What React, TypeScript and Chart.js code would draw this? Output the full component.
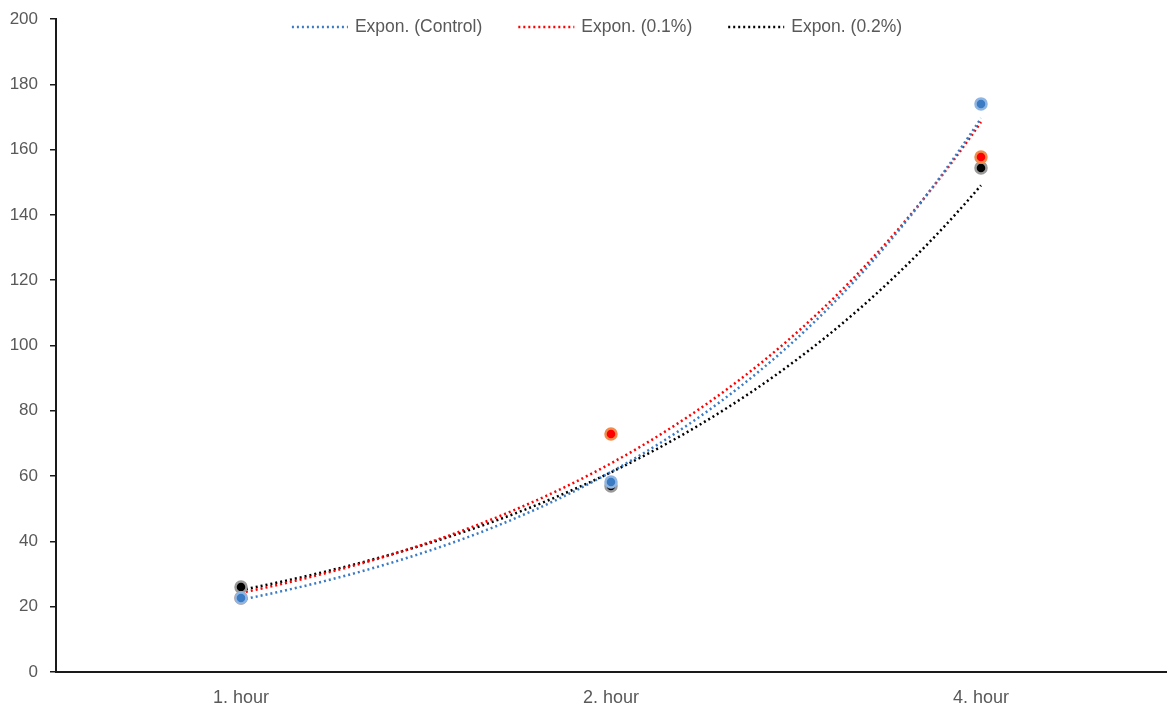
import React, { useEffect, useRef } from 'react';
import { Chart, registerables } from 'chart.js';

Chart.register(...registerables);

// ---- data ----
const categories = ['1. hour', '2. hour', '4. hour'];
const categoryPositions = [1, 2, 3];
const controlValues = [22.7, 58.2, 174.0];
const pct01Values = [22.7, 72.9, 157.7];
const pct02Values = [26.0, 57.0, 154.4];
const legendLabels = ['Expon. (Control)', 'Expon. (0.1%)', 'Expon. (0.2%)'];
const yMin = 0;
const yMax = 200;
const yStep = 20;

// ---- styles ----
const BLUE = '#3a7bc4';
const RED = '#ff0000';
const BLACK = '#000000';
const TEXT = '#595959';
const FONT = '"Liberation Sans", Arial, sans-serif';

// Excel-style exponential trendline (least squares on ln y)
function expFit(xs: number[], ys: number[]) {
  const n = xs.length;
  const ly = ys.map((v) => Math.log(v));
  const mx = xs.reduce((s, v) => s + v, 0) / n;
  const my = ly.reduce((s, v) => s + v, 0) / n;
  let sxy = 0;
  let sxx = 0;
  for (let i = 0; i < n; i++) {
    sxy += (xs[i] - mx) * (ly[i] - my);
    sxx += (xs[i] - mx) * (xs[i] - mx);
  }
  const b = sxy / sxx;
  const a = Math.exp(my - b * mx);
  return { a, b };
}

function trendPoints(xs: number[], ys: number[]) {
  const { a, b } = expFit(xs, ys);
  const pts: { x: number; y: number }[] = [];
  const x0 = xs[0];
  const x1 = xs[xs.length - 1];
  const steps = 80;
  for (let i = 0; i <= steps; i++) {
    const x = x0 + ((x1 - x0) * i) / steps;
    pts.push({ x, y: a * Math.exp(b * x) });
  }
  return pts;
}

function toPoints(ys: number[]) {
  return ys.map((y, i) => ({ x: categoryPositions[i], y }));
}

const legendPlugin = {
  id: 'excelLegend',
  afterDraw(chart: any) {
    const ctx = chart.ctx;
    const items = [
      { label: legendLabels[0], color: BLUE },
      { label: legendLabels[1], color: RED },
      { label: legendLabels[2], color: BLACK },
    ];
    ctx.save();
    ctx.font = `17.5px ${FONT}`;
    const sample = 56;
    const gapText = 7;
    const gapItem = 36;
    const widths = items.map((it) => ctx.measureText(it.label).width);
    const total =
      widths.reduce((s, w) => s + w, 0) + items.length * (sample + gapText) + gapItem * (items.length - 1);
    let x = 597 - total / 2;
    const y = 27;
    items.forEach((it, i) => {
      ctx.strokeStyle = it.color;
      ctx.lineWidth = 2.5;
      ctx.setLineDash([2, 3]);
      ctx.beginPath();
      ctx.moveTo(x, y);
      ctx.lineTo(x + sample, y);
      ctx.stroke();
      ctx.setLineDash([]);
      ctx.fillStyle = TEXT;
      ctx.textBaseline = 'middle';
      ctx.textAlign = 'left';
      ctx.fillText(it.label, x + sample + gapText, y);
      x += sample + gapText + widths[i] + gapItem;
    });
    ctx.restore();
  },
};

export default function App() {
  const ref = useRef<HTMLCanvasElement | null>(null);

  useEffect(() => {
    if (!ref.current) return;
    const trendStyle = (color: string) => ({
      type: 'line' as const,
      showLine: true,
      borderColor: color,
      borderWidth: 2.5,
      borderDash: [2, 3],
      pointRadius: 0,
      fill: false,
      tension: 0,
    });
    const pointStyle = (fill: string, border: string) => ({
      type: 'line' as const,
      showLine: false,
      backgroundColor: fill,
      borderColor: border,
      pointBackgroundColor: fill,
      pointBorderColor: border,
      pointRadius: 5.5,
      pointBorderWidth: 2.5,
      pointHoverRadius: 5.5,
    });
    const chart = new Chart(ref.current, {
      type: 'line',
      data: {
        datasets: [
          { label: legendLabels[0], data: trendPoints(categoryPositions, controlValues), ...trendStyle(BLUE), order: 2 },
          { label: legendLabels[1], data: trendPoints(categoryPositions, pct01Values), ...trendStyle(RED), order: 2 },
          { label: legendLabels[2], data: trendPoints(categoryPositions, pct02Values), ...trendStyle(BLACK), order: 2 },
          { label: 'Control', data: toPoints(controlValues), ...pointStyle(BLUE, '#8fb6e2'), order: 1 },
          { label: '0.1%', data: toPoints(pct01Values), ...pointStyle(RED, '#f08c4c'), order: 1 },
          { label: '0.2%', data: toPoints(pct02Values), ...pointStyle(BLACK, '#9a9a9a'), order: 1 },
        ] as any,
      },
      options: {
        animation: false,
        responsive: false,
        maintainAspectRatio: false,
        layout: { autoPadding: false, padding: { top: 19, right: 2, bottom: 0, left: 0 } },
        plugins: {
          legend: { display: false },
          tooltip: { enabled: false },
        },
        scales: {
          x: {
            type: 'linear',
            min: 0.5,
            max: 3.5,
            afterBuildTicks: (scale: any) => {
              scale.ticks = categoryPositions.map((v) => ({ value: v }));
            },
            afterFit: (scale: any) => {
              scale.height = 39;
              scale.paddingLeft = 0;
              scale.paddingRight = 0;
            },
            ticks: {
              autoSkip: false,
              maxRotation: 0,
              padding: 15,
              color: TEXT,
              font: { family: FONT, size: 18 },
              callback: (v: any) => categories[categoryPositions.indexOf(Number(v))] ?? '',
            },
            grid: { display: true, drawOnChartArea: false, drawTicks: false },
            border: { display: true, color: '#1a1a1a', width: 2 },
          },
          y: {
            type: 'linear',
            min: yMin,
            max: yMax,
            afterFit: (scale: any) => {
              scale.width = 56;
              scale.paddingTop = 0;
              scale.paddingBottom = 0;
            },
            ticks: {
              stepSize: yStep,
              padding: 12,
              color: TEXT,
              font: { family: FONT, size: 17 },
            },
            grid: { display: true, drawOnChartArea: false, drawTicks: true, tickLength: 6, color: '#1a1a1a', lineWidth: 1.5 },
            border: { display: true, color: '#1a1a1a', width: 2 },
          },
        },
      },
      plugins: [legendPlugin],
    });
    return () => chart.destroy();
  }, []);

  return (
    <canvas
      ref={ref}
      width={1168}
      height={711}
      style={{ position: 'absolute', left: 0, top: 0, width: 1168, height: 711, background: '#fff' }}
    />
  );
}
